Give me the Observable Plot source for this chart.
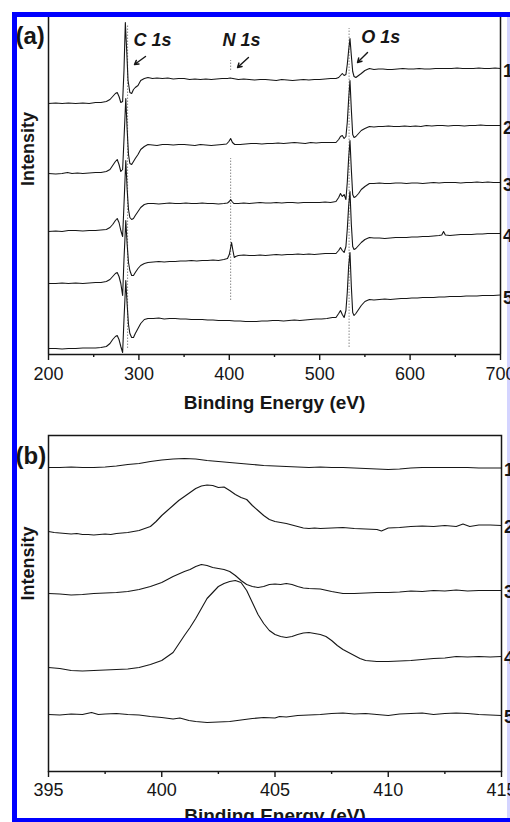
<!DOCTYPE html>
<html><head><meta charset="utf-8">
<script src="https://cdn.jsdelivr.net/npm/d3@7"></script>
<script src="https://cdn.jsdelivr.net/npm/@observablehq/plot@0.6"></script>
<style>
body{margin:0;background:#fff;}
#page{position:relative;width:510px;height:822px;overflow:hidden;background:#fff;font-family:"Liberation Sans",Arial,sans-serif;}
.panel{position:absolute;left:0;width:510px;}
#pa{top:0;height:420px;}
#pb{top:420px;height:402px;}
.bl{position:absolute;background:#0000ff;}
</style></head>
<body><div id="page">
<div style="position:absolute;left:507px;top:12px;width:3px;height:810px;background:#d4d4ff"></div>
<div id="pa" class="panel"></div><div id="pb" class="panel"></div>
<div class="bl" style="left:12px;top:12px;width:5px;height:810px"></div>
<div class="bl" style="left:12px;top:12px;width:498px;height:5px"></div>
<div class="bl" style="left:12px;top:818px;width:498px;height:4px"></div>
</div>
<script>
// ---------- Panel (a): survey spectra, [binding energy (eV), intensity (a.u., offset)] ----------
const survey1 = [[200,251],[208,251.5],[215,251],[222,251.5],[230,251],[238,251.5],[245,251],[252,252],[258,252],[264,253],[268,255],[271,258],[274,261],[276,262],[278,258],[280,252],[282,253],[283.5,284],[285,332],[286.5,304],[288,274],[290,262],[292,261],[294,265],[296,267],[299,269],[302,274],[306,276],[310,277],[315,276],[320,276.5],[326,276],[332,276.5],[338,275.5],[344,276],[350,276],[356,275],[362,275.5],[368,275],[374,275.5],[380,275],[386,275.5],[392,276],[398,276],[401,276.5],[404,276],[410,275],[416,275.5],[422,275],[428,274.5],[434,275],[440,275],[446,274.5],[452,274],[458,275],[464,274.5],[470,274],[476,274.5],[482,275],[488,274.5],[494,275],[500,275],[506,275.5],[512,276],[518,276],[521,277],[523,279],[525,281],[527,279],[529,280],[530.5,290],[532,304],[533.5,316],[535,299],[536.5,283],[538,278],[540,277],[543,279],[546,281],[550,284],[555,286],[560,285],[565,285.5],[570,285.5],[575,285],[580,285],[586,285.5],[592,286],[598,285.5],[604,285.5],[610,286],[616,285.5],[622,285.5],[628,286],[634,286],[640,286],[646,286],[652,286.5],[658,286],[664,286],[670,286],[676,286.5],[682,286],[688,286],[694,286.5],[700,286]];
const survey2 = [[200,181],[208,180.5],[215,181],[221,182],[226,181],[232,181.5],[238,181],[245,181.5],[252,182],[258,182],[264,183],[268,185],[271,189],[274,193],[276,195],[278,190],[280,183],[282,185],[283.5,215],[285.5,256],[287,225],[288.5,200],[290,191],[292,190],[294,193],[296,196],[299,200],[302,205],[306,208],[310,210],[315,209.5],[320,209],[326,210],[332,210],[338,209.5],[344,210],[350,210],[356,209.5],[362,209],[368,210],[374,209.5],[380,209],[386,209.5],[392,210],[397,210.5],[399.5,213],[401.5,216],[403.5,212],[406,210],[412,210],[418,210.5],[424,211],[430,211],[436,210.5],[442,211],[448,211],[454,211.5],[460,211],[466,211.5],[472,212],[478,211.5],[484,211],[490,212],[496,211.5],[502,212],[508,212],[514,212],[518,212],[521,215],[523,218],[525,219],[527,216],[529,218],[530.5,232],[532,255],[533.5,274],[535,245],[536.5,220],[538,217],[540,218],[543,221],[546,224],[550,226],[555,228],[560,227.5],[565,228],[570,228],[576,228.5],[582,228],[588,228],[594,228.5],[600,228],[606,228.5],[612,228],[618,229],[624,228.5],[630,229],[636,229],[642,228.5],[648,229],[654,229],[660,228.5],[666,229],[672,229],[678,229.5],[684,229],[690,229],[696,229],[700,229]];
const survey3 = [[200,123],[208,123.5],[215,123],[222,124],[230,124],[238,123.5],[245,124],[252,124],[258,124.5],[264,125],[268,127],[271,130],[274,134],[276,136],[278,132],[280,124],[282,118],[283.5,150],[285.5,194],[287,165],[288.5,145],[290,137],[292,135],[294,136],[296,139],[299,143],[302,147],[306,150],[310,151],[316,151],[322,150.5],[328,151],[334,151.5],[340,151],[346,151],[352,151.5],[358,151],[364,151],[370,151.5],[376,151],[382,151],[388,150.5],[394,151],[398,151.5],[400,153],[401.5,155],[403,153],[405,151],[410,151],[416,151.5],[422,151],[428,151.5],[434,152],[440,151.5],[446,151.5],[452,152],[458,151.5],[464,152],[470,152],[476,151.5],[482,152],[488,152],[494,152],[500,152],[506,152.5],[512,152],[518,153],[521,157],[523,161],[525,158],[527,160],[529,155],[530.5,172],[532,196],[533.5,214],[535,185],[536.5,160],[538,157],[540,158],[543,161],[546,165],[550,168],[555,171],[560,171],[566,171.5],[572,171],[578,171],[584,171.5],[590,171.5],[596,171],[602,171.5],[608,171.5],[614,171],[620,171.5],[626,172],[632,171.5],[638,172],[644,172],[650,172],[656,171.5],[662,172],[668,172],[674,172.5],[680,172],[686,172.5],[692,172],[700,172]];
const survey4 = [[200,71],[208,71],[215,71.5],[222,71],[230,71.5],[238,71],[245,71.5],[252,72],[258,72],[264,73],[268,75],[271,78],[274,81],[276,82],[278,78],[280,71],[282,59],[283.5,95],[285.5,134],[287,110],[288.5,92],[290,84],[292,79],[294,79],[296,82],[299,86],[302,89],[306,91],[310,92],[316,92.5],[322,93],[328,92.5],[334,93],[340,93],[346,93.5],[352,93.5],[358,94],[364,93.5],[370,94],[376,94],[382,94.5],[388,94],[394,95],[398,96],[400,100],[401.5,107],[402.5,112],[404,104],[405.5,97],[407,98],[410,99],[416,99.5],[422,99],[428,99],[434,99.5],[440,99],[446,99.5],[452,100],[458,99.5],[464,100],[470,100],[476,100.5],[482,100],[488,100.5],[494,100],[500,100.5],[506,101],[512,101],[518,101],[521,104],[523,107],[525,104],[527,102],[529,108],[530.5,125],[532,148],[533.5,163],[535,130],[536.5,108],[538,105],[540,106],[543,109],[546,112],[550,115],[555,117],[560,116.5],[566,116.5],[572,116],[578,116.5],[584,117],[590,117],[596,117],[602,117.5],[608,117.5],[614,118],[620,118],[626,118.5],[632,119],[635,119.5],[637,123],[639,119.5],[644,119],[650,119.5],[656,120],[662,120],[668,120],[674,120.5],[680,120.5],[686,121],[692,121],[700,121]];
const survey5 = [[200,6],[208,6],[215,5.5],[222,6],[230,6],[238,6.5],[245,6.5],[252,6.5],[258,7],[264,8],[268,11],[271,15],[274,18],[276,19],[278,15],[280,8],[282,2],[283.5,35],[285.5,74],[287,50],[288.5,30],[290,21],[292,17],[294,17],[296,21],[299,26],[302,31],[306,35],[310,36],[316,36],[322,36.5],[328,35.5],[334,36],[340,36],[346,35.5],[352,35.5],[358,35],[364,35],[370,35],[376,34.5],[382,34.5],[388,34],[394,34],[400,34],[406,33.5],[412,33.5],[418,33],[424,33],[430,33],[436,33.5],[442,33.5],[448,34],[454,34],[460,33.5],[466,34],[472,34.5],[478,34],[484,34.5],[490,35],[496,35.5],[502,35.5],[508,36],[514,37],[518,37],[521,41],[523,44],[525,40],[527,37],[529,44],[530.5,62],[532,88],[533.5,102],[535,68],[536.5,42],[538,39],[540,41],[543,45],[546,49],[550,53],[555,55],[560,54.5],[566,55],[572,55.5],[578,55],[584,55.5],[590,56],[596,56],[602,56.5],[608,56.5],[614,57],[620,57],[626,57],[632,57.5],[638,57.5],[644,58],[650,58],[656,58],[662,58.5],[668,58.5],[674,58.5],[680,59],[686,59],[692,59],[700,59.5]];

// ---------- Panel (b): N 1s region ----------
const n1s1 = [[395,304],[395.5,304],[396,304.5],[396.5,304],[397,304],[397.5,304.5],[398,305.5],[398.5,307],[399,308],[399.5,310],[400,311.5],[400.5,312.5],[401,313],[401.5,312.5],[402,311],[402.5,310],[403,309],[403.5,308],[404,307],[404.5,306],[405,305.5],[405.5,305],[406,304.5],[406.5,304],[407,304.5],[407.5,304],[408,304],[408.5,303.5],[409,303],[409.5,302.5],[410,302],[410.5,302.5],[411,303.5],[411.5,304],[412,304],[412.5,304],[413,304],[413.5,304],[414,303.5],[414.5,303.5],[415,303.5]];
const n1s2 = [[395,240],[395.25,239],[395.5,238.5],[395.75,238],[396,237.5],[396.25,238],[396.5,237],[396.75,237],[397,236.5],[397.25,237],[397.5,237.5],[397.75,237],[398,238],[398.25,238.5],[398.5,239],[398.75,240],[399,241],[399.25,243],[399.5,245],[399.75,250],[400,256],[400.25,261],[400.5,266],[400.75,271],[401,275],[401.25,279],[401.5,283],[401.75,285.5],[402,286.5],[402.25,286],[402.5,284],[402.75,284.5],[403,281],[403.25,277],[403.5,274],[403.75,272],[404,266],[404.25,261],[404.5,256],[404.75,252],[405,250],[405.25,249],[405.5,248],[405.75,246.5],[406,245],[406.25,243.5],[406.5,243],[406.75,243.5],[407,243],[407.5,243.5],[408,244],[408.5,243],[409,242.5],[409.5,242],[409.7,240.5],[410,243.5],[410.5,244],[411,245],[411.5,245.5],[412,245],[412.5,246],[413,245],[413.3,247.5],[413.6,245],[414,246.5],[414.5,246.5],[415,246]];
const n1s3 = [[395,178],[395.5,177.5],[396,176.5],[396.5,177],[397,178],[397.5,178.5],[398,179],[398.5,180],[399,182],[399.5,185],[400,189],[400.5,195],[401,200],[401.25,202],[401.5,205],[401.75,207],[402,206],[402.25,204],[402.5,203],[402.75,202],[403,200],[403.25,196],[403.5,191],[403.75,187],[404,185],[404.25,184],[404.5,185],[404.75,187],[405,187.5],[405.25,187],[405.5,188],[405.75,187],[406,185],[406.25,183.5],[406.5,183],[407,182.5],[407.5,180],[408,178],[408.5,178],[409,178.5],[409.5,179],[410,179],[410.5,179.5],[411,180.5],[411.5,180],[412,181],[412.5,180.5],[413,181.5],[413.5,180.5],[414,181],[414.5,181],[415,181]];
const n1s4 = [[395,104],[395.5,103],[396,101],[396.5,100.5],[397,101],[397.5,101.5],[398,102],[398.5,102.5],[399,104],[399.5,107],[400,111],[400.5,119],[401,136],[401.25,144],[401.5,153],[401.75,163],[402,173],[402.25,179],[402.5,185],[402.75,188],[403,190],[403.25,191],[403.5,189],[403.75,181],[404,169],[404.25,157],[404.5,148],[404.75,141],[405,137],[405.25,135],[405.5,134],[405.75,135],[406,137],[406.25,138.5],[406.5,139],[406.75,138],[407,137],[407.25,135],[407.5,131],[407.75,126],[408,122],[408.25,119],[408.5,116],[408.75,113],[409,111],[409.5,110],[410,110],[410.5,110.5],[411,111],[411.5,112],[412,113],[412.5,113.5],[413,115],[413.5,114.5],[414,115],[414.5,114.5],[415,115]];
const n1s5 = [[395,57],[395.5,56.5],[396,57.5],[396.5,57],[396.9,59],[397.2,57],[397.5,57.5],[398,58],[398.5,57],[399,56.5],[399.5,55],[400,54],[400.5,52.5],[400.8,53.5],[401.2,51],[401.5,50],[402,49],[402.5,49.5],[403,50],[403.5,51.5],[404,53],[404.5,54],[405,53.5],[405.2,55],[405.5,54.5],[406,56],[406.5,56.5],[407,57],[407.5,58],[408,58.5],[408.5,57.5],[409,58],[409.5,57],[410,56],[410.5,57.5],[411,58],[411.5,58.5],[412,57],[412.5,58],[413,58.5],[413.5,58],[414,57],[414.5,56.5],[415,56]];

const sampleLabels = ["1","2","3","4","5"];
const ticksA = [200,300,400,500,600,700];
const minorA = [250,350,450,550,650];
const ticksB = [395,400,405,410,415];
const minorB = [397.5,402.5,407.5,412.5];

// peak annotations (panel a): label anchor + arrow, in data units
const peakNames = ["C 1s","N 1s","O 1s"];
const peakTextE = [294,392.5,546];
const peakTextI = [309,309,312];
const arrowFromE = [307.3,421.2,552.9];
const arrowFromI = [298,297,302];
const arrowToE = [295.1,409.1,541.8];
const arrowToI = [290,287,292];
// dotted reference lines: energy, intensity span
const refE = [287.5,401.5,401.5,532.5];
const refFrom = [6,54,284,7];
const refTo = [329,196,294,326];

const FONT = "Liberation Sans, Arial, Helvetica, sans-serif";
const INK = "#161616";

function toRows(curves){ return curves.flatMap((c,i)=>c.map(([e,v])=>({e,v,id:sampleLabels[i]}))); }
function ends(curves){ return curves.map((c,i)=>({e:c[c.length-1][0], v:c[c.length-1][1], id:sampleLabels[i]})); }

const surveys = [survey1,survey2,survey3,survey4,survey5];
const narrow = [n1s1,n1s2,n1s3,n1s4,n1s5];
const annotations = peakNames.map((n,i)=>({name:n, te:peakTextE[i], ti:peakTextI[i], x1:arrowFromE[i], y1:arrowFromI[i], x2:arrowToE[i], y2:arrowToI[i]}));
const refs = refE.map((e,i)=>({e, from:refFrom[i], to:refTo[i]}));

const common = (tag) => [
  Plot.text([tag], {text:d=>d, frameAnchor:"top-left", dx:-33, dy: tag==="(a)"?26:28, lineAnchor:"bottom", textAnchor:"start", fontSize:24, fontWeight:"bold", fill:INK}),
];

const plotA = Plot.plot({
  width:510, height:420, marginLeft:48, marginRight:10, marginTop:17, marginBottom:66,
  x:{domain:[200,700]}, y:{domain:[0,337], axis:null},
  style:{background:"transparent", fontFamily:FONT, color:INK},
  marks:[
    Plot.ruleX(refs, {x:"e", y1:"from", y2:"to", stroke:"#8a8a8a", strokeWidth:1, strokeDasharray:"1.5,1.5"}),
    Plot.line(toRows(surveys), {x:"e", y:"v", z:"id", stroke:INK, strokeWidth:1.1}),
    Plot.ruleY([0], {stroke:INK, strokeWidth:1.5}),
    Plot.ruleX([200,700], {stroke:INK, strokeWidth:1.5}),
    Plot.axisX({ticks:ticksA, tickSize:6, tickPadding:7, fontSize:18, label:null, strokeWidth:1.4, tickFormat:d=>String(d)}),
    Plot.axisX({ticks:minorA, tickSize:3, label:null, strokeWidth:1.4, tickFormat:()=>""}),
    Plot.text(ends(surveys), {x:"e", y:"v", text:"id", dx:2.5, dy:3, textAnchor:"start", fontSize:18, fontWeight:"bold", fill:INK}),
    Plot.text(annotations, {x:"te", y:"ti", text:"name", textAnchor:"start", lineAnchor:"bottom", fontSize:18, fontWeight:"bold", fontStyle:"italic", fill:INK}),
    Plot.arrow(annotations, {x1:"x1", y1:"y1", x2:"x2", y2:"y2", stroke:INK, strokeWidth:1.4, headLength:5}),
    Plot.text(["Binding Energy (eV)"], {text:d=>d, frameAnchor:"bottom", dy:54, lineAnchor:"bottom", fontSize:19, fontWeight:"bold", fill:INK}),
    Plot.text(["Intensity"], {text:d=>d, frameAnchor:"left", rotate:-90, dx:-20, fontSize:18, fontWeight:"bold", fill:INK}),
    ...common("(a)")
  ]
});
document.getElementById("pa").append(plotA);

const plotB = Plot.plot({
  width:510, height:402, marginLeft:48, marginRight:9, marginTop:15, marginBottom:51,
  x:{domain:[395,415]}, y:{domain:[0,336], axis:null},
  style:{background:"transparent", fontFamily:FONT, color:INK},
  marks:[
    Plot.line(toRows(narrow), {x:"e", y:"v", z:"id", stroke:INK, strokeWidth:1.1}),
    Plot.frame({stroke:INK, strokeWidth:1.5}),
    Plot.axisX({ticks:ticksB, tickSize:6, tickPadding:6, fontSize:18, label:null, strokeWidth:1.4, tickFormat:d=>String(d)}),
    Plot.axisX({ticks:minorB, tickSize:3, label:null, strokeWidth:1.4, tickFormat:()=>""}),
    Plot.text(ends(narrow), {x:"e", y:"v", text:"id", dx:2.5, dy:2, textAnchor:"start", fontSize:18, fontWeight:"bold", fill:INK}),
    Plot.text(["Binding Energy (eV)"], {text:d=>d, frameAnchor:"bottom", dy:50, lineAnchor:"bottom", fontSize:19, fontWeight:"bold", fill:INK}),
    Plot.text(["Intensity"], {text:d=>d, frameAnchor:"left", rotate:-90, dx:-20, dy:-3, fontSize:18, fontWeight:"bold", fill:INK}),
    ...common("(b)")
  ]
});
document.getElementById("pb").append(plotB);
</script>
</body></html>
